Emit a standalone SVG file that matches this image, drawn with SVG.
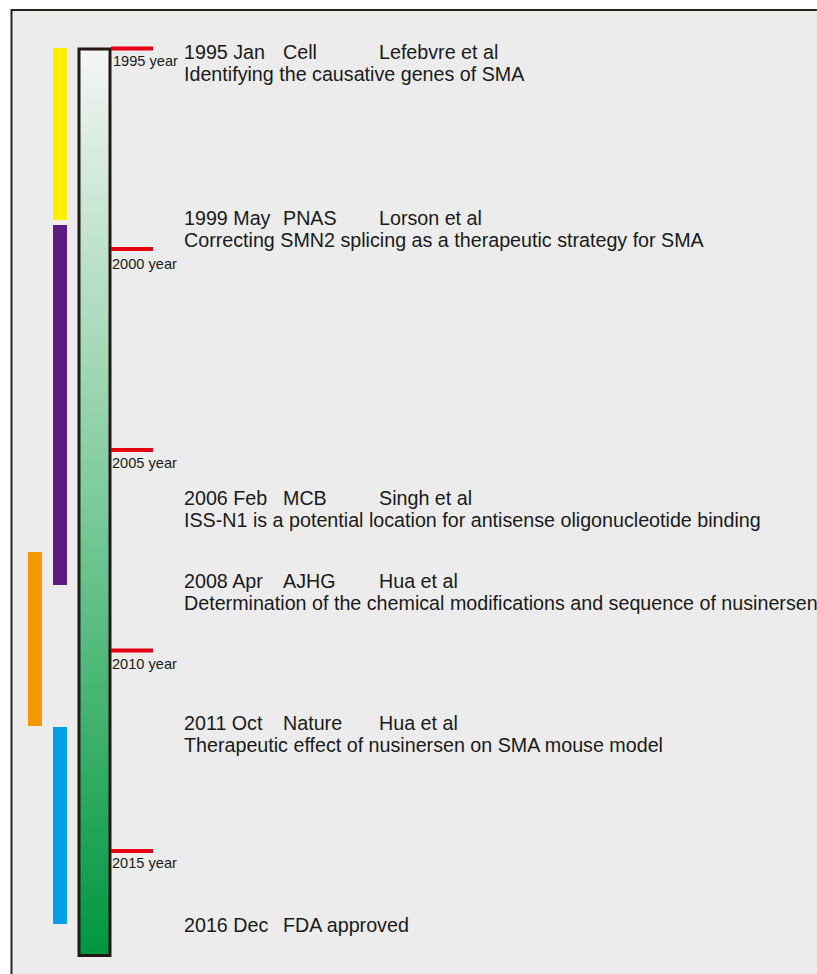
<svg xmlns="http://www.w3.org/2000/svg" width="817" height="974" viewBox="0 0 817 974">
<defs>
<linearGradient id="g" x1="0" y1="0" x2="0" y2="1">
<stop offset="0" stop-color="#f4f5f5"/>
<stop offset="0.5" stop-color="#7ccb9a"/>
<stop offset="1" stop-color="#00963f"/>
</linearGradient>
<style>
.t{font-family:"Liberation Sans",Arial,sans-serif;font-size:19.7px;fill:#1a1a1a}
.y{font-family:"Liberation Sans",Arial,sans-serif;font-size:14.6px;fill:#1a1a1a}
.tick{stroke:#e50012;stroke-width:4}
</style>
</defs>
<rect width="817" height="974" fill="#ffffff"/>
<rect x="11.5" y="10" width="820" height="980" fill="#ececec" stroke="#2b2220" stroke-width="2"/>
<g id="periods">
<rect x="53" y="48" width="14" height="172" fill="#fff000"/>
<rect x="53" y="225" width="14" height="360" fill="#5c1a82"/>
<rect x="28" y="552" width="14" height="174" fill="#f39800"/>
<rect x="53" y="727" width="14" height="197" fill="#00a0e9"/>
</g>
<g id="timeline">
<rect x="79" y="49" width="31" height="906.5" fill="url(#g)" stroke="#231815" stroke-width="3"/>
</g>
<g id="ticks">
<line class="tick" x1="111" y1="48.5" x2="153" y2="48.5"/>
<line class="tick" x1="111" y1="249" x2="153" y2="249"/>
<line class="tick" x1="111" y1="450" x2="153" y2="450"/>
<line class="tick" x1="111" y1="650.5" x2="153" y2="650.5"/>
<line class="tick" x1="111" y1="851" x2="153" y2="851"/>
<text class="y" x="113" y="66">1995 year</text>
<text class="y" x="112" y="269">2000 year</text>
<text class="y" x="112" y="468">2005 year</text>
<text class="y" x="112" y="669">2010 year</text>
<text class="y" x="112" y="868">2015 year</text>
</g>
<g id="e1995">
<text class="t" x="184" y="59">1995 Jan</text><text class="t" x="283" y="59">Cell</text><text class="t" x="379" y="59">Lefebvre et al</text>
<text class="t" x="184" y="81">Identifying the causative genes of SMA</text>
</g>
<g id="e1999">
<text class="t" x="184" y="225">1999 May</text><text class="t" x="283" y="225">PNAS</text><text class="t" x="379" y="225">Lorson et al</text>
<text class="t" x="184" y="247">Correcting SMN2 splicing as a therapeutic strategy for SMA</text>
</g>
<g id="e2006">
<text class="t" x="184" y="505">2006 Feb</text><text class="t" x="283" y="505">MCB</text><text class="t" x="379" y="505">Singh et al</text>
<text class="t" x="184" y="527">ISS-N1 is a potential location for antisense oligonucleotide binding</text>
</g>
<g id="e2008">
<text class="t" x="184" y="588">2008 Apr</text><text class="t" x="283" y="588">AJHG</text><text class="t" x="379" y="588">Hua et al</text>
<text class="t" x="184" y="610">Determination of the chemical modifications and sequence of nusinersen</text>
</g>
<g id="e2011">
<text class="t" x="184" y="730">2011 Oct</text><text class="t" x="283" y="730">Nature</text><text class="t" x="379" y="730">Hua et al</text>
<text class="t" x="184" y="752">Therapeutic effect of nusinersen on SMA mouse model</text>
</g>
<g id="e2016">
<text class="t" x="184" y="932">2016 Dec</text><text class="t" x="283" y="932">FDA approved</text>
</g>
</svg>
